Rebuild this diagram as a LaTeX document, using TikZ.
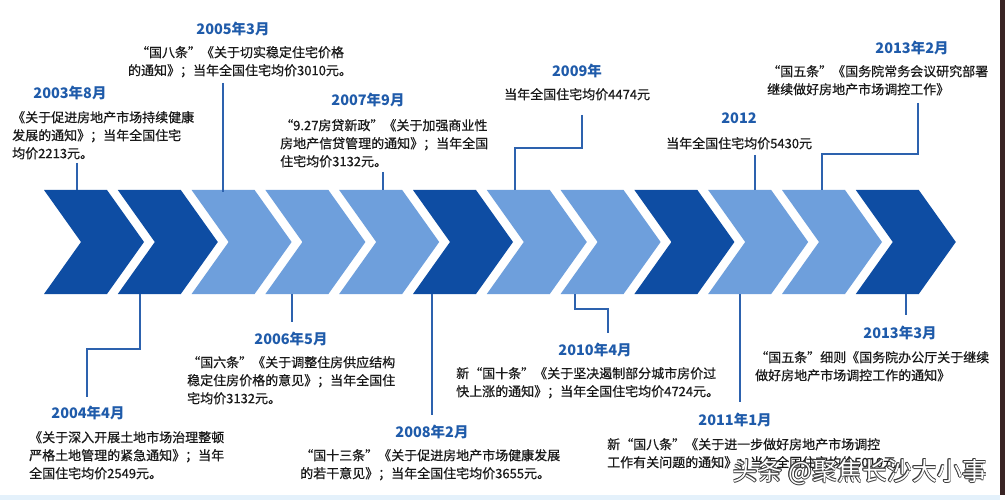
\documentclass[tikz,border=0pt]{standalone}
\usepackage{fontspec}
\newfontfamily\cjk{Noto Sans CJK SC}
\newfontfamily\cjkbody{Noto Sans CJK SC}[FakeBold=0.6]
\definecolor{darkc}{HTML}{0E4DA3}
\definecolor{lightc}{HTML}{6E9FDC}
\definecolor{linec}{HTML}{2D62AE}
\definecolor{yearc}{HTML}{1F5BAA}
\definecolor{stripc}{HTML}{E4F1FB}
\definecolor{edgec}{HTML}{3A2424}
\definecolor{wmedge}{HTML}{3C3C3C}
\newcommand\fl{\rule{0pt}{13pt}}
\tikzset{
  conn/.style={draw=linec, line width=1.8pt},
  yearlbl/.style={font=\cjk\bfseries\fontsize{14.5}{16}\selectfont, text=yearc, inner sep=0pt},
  body/.style={font=\cjkbody\fontsize{13}{18}\selectfont, text=black!90, inner sep=0pt, align=left, anchor=north west},
  bodyc/.style={body, align=center, anchor=north},
  wm/.style={font=\cjk\fontsize{25}{28}\selectfont, inner sep=0pt},
}
\begin{document}
\begin{tikzpicture}[x=1pt,y=-1pt]
\useasboundingbox (0,0) rectangle (1005,500);
\fill[white] (0,0) rectangle (1005,500);
\fill[stripc] (0,495) rectangle (1000,500);
\fill[edgec] (1000,0) rectangle (1005,495);

% chevrons
\foreach \i/\c in {0/darkc,1/darkc,2/lightc,3/lightc,4/lightc,5/darkc,6/lightc,7/lightc,8/darkc,9/lightc,10/lightc,11/darkc}{
  \pgfmathsetmacro\xo{44+73.8*\i}
  \fill[\c] (\xo,190) -- ++(63,0) -- ++(37,52) -- ++(-37,52) -- ++(-63,0) -- ++(37,-52) -- cycle;
}

% upper connectors
\coordinate (u1a) at (77,163);  \coordinate (u1b) at (77,190);
\draw[conn] (u1a) -- (u1b);
\coordinate (u2a) at (223,83);  \coordinate (u2b) at (223,192);
\draw[conn] (u2a) -- (u2b);
\coordinate (u3a) at (383,172); \coordinate (u3b) at (383,190);
\draw[conn] (u3a) -- (u3b);
\coordinate (u4a) at (582,115); \coordinate (u4m) at (582,148);
\coordinate (u4n) at (515,148); \coordinate (u4b) at (515,190);
\draw[conn] (u4a) -- (u4m) -- (u4n) -- (u4b);
\coordinate (u5a) at (755,155); \coordinate (u5b) at (755,190);
\draw[conn] (u5a) -- (u5b);
\coordinate (u6a) at (918,103); \coordinate (u6m) at (918,154);
\coordinate (u6n) at (822,154); \coordinate (u6b) at (822,190);
\draw[conn] (u6a) -- (u6m) -- (u6n) -- (u6b);

% lower connectors
\coordinate (l1a) at (140,294); \coordinate (l1m) at (140,349);
\coordinate (l1n) at (87,349);  \coordinate (l1b) at (87,397);
\draw[conn] (l1a) -- (l1m) -- (l1n) -- (l1b);
\coordinate (l2a) at (292,294); \coordinate (l2b) at (292,322);
\draw[conn] (l2a) -- (l2b);
\coordinate (l3a) at (432,294); \coordinate (l3b) at (432,415);
\draw[conn] (l3a) -- (l3b);
\coordinate (l4a) at (575,294); \coordinate (l4m) at (575,309);
\coordinate (l4n) at (608,309); \coordinate (l4b) at (608,333);
\draw[conn] (l4a) -- (l4m) -- (l4n) -- (l4b);
\coordinate (l5a) at (740,294); \coordinate (l5b) at (740,402);
\draw[conn] (l5a) -- (l5b);
\coordinate (l6a) at (906,294); \coordinate (l6b) at (906,315);
\draw[conn] (l6a) -- (l6b);

% year labels
\node[yearlbl] (y0308) at (70,93)   {2003年8月};
\node[yearlbl] (y0503) at (233,29)  {2005年3月};
\node[yearlbl] (y0709) at (368,100) {2007年9月};
\node[yearlbl] (y09)   at (577,71)  {2009年};
\node[yearlbl] (y12)   at (739,118) {2012};
\node[yearlbl] (y1302) at (912,48)  {2013年2月};
\node[yearlbl] (y0404) at (88,413)  {2004年4月};
\node[yearlbl] (y0605) at (291,339) {2006年5月};
\node[yearlbl] (y0802) at (432,432) {2008年2月};
\node[yearlbl] (y1004) at (595,350) {2010年4月};
\node[yearlbl] (y1101) at (735,420) {2011年1月};
\node[yearlbl] (y1303) at (900,333) {2013年3月};

% body texts
\node[body] (t0308) at (12,109) {\fl{}《关于促进房地产市场持续健康\\发展的通知》；当年全国住宅\\均价2213元。};
\node[bodyc] (t0503) at (240,44) {\fl{}“国八条”《关于切实稳定住宅价格\\的通知》；当年全国住宅均价3010元。};
\node[body] (t0709) at (280,117) {\fl{}“9.27房贷新政”《关于加强商业性\\房地产信贷管理的通知》；当年全国\\住宅均价3132元。};
\node[body] (t09) at (504,86) {\fl{}当年全国住宅均价4474元};
\node[body] (t12) at (666,135) {\fl{}当年全国住宅均价5430元};
\node[body] (t1302) at (767,63) {\fl{}“国五条”《国务院常务会议研究部署\\继续做好房地产市场调控工作》};
\node[body] (t0404) at (29,429) {\fl{}《关于深入开展土地市场治理整顿\\严格土地管理的紧急通知》；当年\\全国住宅均价2549元。};
\node[body] (t0605) at (187,354) {\fl{}“国六条”《关于调整住房供应结构\\稳定住房价格的意见》；当年全国住\\宅均价3132元。};
\node[body] (t0802) at (300,447) {\fl{}“国十三条”《关于促进房地产市场健康发展\\的若干意见》；当年全国住宅均价3655元。};
\node[body] (t1004) at (456,365) {\fl{}新“国十条”《关于坚决遏制部分城市房价过\\快上涨的通知》；当年全国住宅均价4724元。};
\node[body] (t1101) at (607,436) {\fl{}新“国八条”《关于进一步做好房地产市场调控\\工作有关问题的通知》；当年全国住宅均价5010元。};
\node[body] (t1303) at (755,349) {\fl{}“国五条”细则《国务院办公厅关于继续\\做好房地产市场调控工作的通知》};

% watermark
\foreach \dx/\dy [count=\k] in {-0.7/0,0.7/0,0/-0.7,0/0.7,-0.5/-0.5,0.5/0.5,-0.5/0.5,0.5/-0.5}{
  \node[wm, text=wmedge] (wmo\k) at (860+\dx,472+\dy) {头条 @聚焦长沙大小事};
}
\node[wm, text=white] (wmk) at (860,472) {头条 @聚焦长沙大小事};
\end{tikzpicture}
\end{document}
